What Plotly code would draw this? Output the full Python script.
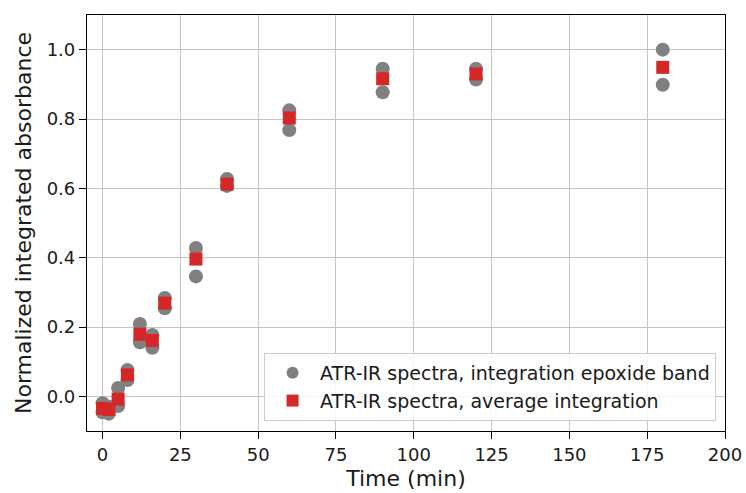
import plotly.graph_objects as go

time_min = [0, 2, 5, 8, 12, 16, 20, 30, 40, 60, 90, 120, 180]
epoxide_upper = [-0.020, -0.030, 0.024, 0.076, 0.209, 0.177, 0.284, 0.428, 0.627, 0.825, 0.945, 0.945, 1.000]
epoxide_lower = [-0.046, -0.050, -0.028, 0.047, 0.156, 0.140, 0.254, 0.346, 0.607, 0.768, 0.877, 0.914, 0.899]
average = [-0.035, -0.038, -0.008, 0.062, 0.179, 0.161, 0.269, 0.396, 0.612, 0.803, 0.916, 0.930, 0.949]

x_ticks = [0, 25, 50, 75, 100, 125, 150, 175, 200]
y_ticks = [0.0, 0.2, 0.4, 0.6, 0.8, 1.0]

gray = "#808080"
red = "#d62728"
font = "DejaVu Sans"

fig = go.Figure()
fig.add_trace(go.Scatter(
    x=time_min + time_min,
    y=epoxide_upper + epoxide_lower,
    mode="markers",
    marker=dict(symbol="circle", size=14, color=gray, line=dict(width=0)),
    name="ATR-IR spectra, integration epoxide band",
))
fig.add_trace(go.Scatter(
    x=time_min,
    y=average,
    mode="markers",
    marker=dict(symbol="square", size=13, color=red, line=dict(width=0)),
    name="ATR-IR spectra, average integration",
))

axis_common = dict(
    showline=True, linecolor="black", linewidth=1.2, mirror=True,
    ticks="outside", ticklen=7, tickwidth=1.2, tickcolor="black",
    showgrid=True, gridcolor="#c4c4c4", gridwidth=1.1,
    zeroline=False, automargin=False,
    tickfont=dict(family=font, size=18, color="#1a1a1a"),
)

fig.update_xaxes(
    range=[-5, 200], tickvals=x_ticks, ticktext=[str(v) for v in x_ticks],
    title=dict(text="Time (min)", font=dict(family=font, size=22, color="#1a1a1a"), standoff=6),
    **axis_common,
)
fig.update_yaxes(
    range=[-0.1, 1.1], tickvals=y_ticks, ticktext=[f"{v:.1f}" for v in y_ticks],
    title=dict(text="Normalized integrated absorbance", font=dict(family=font, size=22, color="#1a1a1a"), standoff=8),
    **axis_common,
)

fig.update_layout(
    width=746, height=493,
    margin=dict(l=87, r=21, t=15, b=62),
    paper_bgcolor="white", plot_bgcolor="white",
    font=dict(family=font, color="#1a1a1a"),
    legend=dict(
        x=0.986, xanchor="right", y=0.024, yanchor="bottom",
        bgcolor="rgba(255,255,255,0.85)", bordercolor="#cccccc", borderwidth=1,
        font=dict(family=font, size=19, color="#1a1a1a"),
        tracegroupgap=0, itemsizing="constant", itemwidth=45,
    ),
    showlegend=True,
)

fig.write_html("out.html")
